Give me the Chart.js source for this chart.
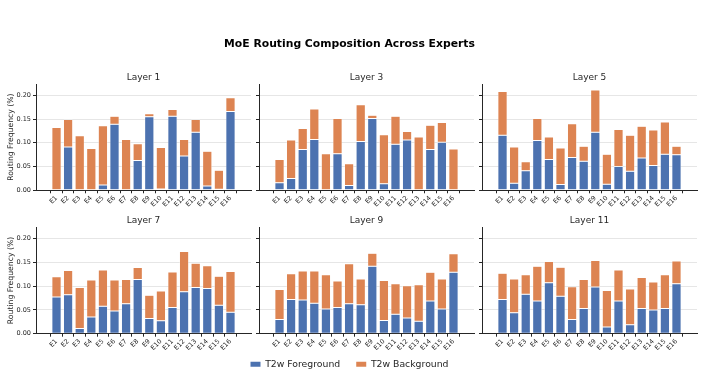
<!DOCTYPE html>
<html>
<head>
<meta charset="utf-8">
<script src="https://cdn.jsdelivr.net/npm/chart.js@4.4.1/dist/chart.umd.min.js"></script>
<style>
  html, body { margin: 0; padding: 0; background: #fff; }
  #wrap { position: relative; width: 705px; height: 376px; }
  #wrap canvas { position: absolute; left: 0; top: 0; }
</style>
</head>
<body>
<div id="wrap">
  <canvas id="c0" width="705" height="376"></canvas>
  <canvas id="c1" width="705" height="376"></canvas>
  <canvas id="c2" width="705" height="376"></canvas>
  <canvas id="c3" width="705" height="376"></canvas>
  <canvas id="c4" width="705" height="376"></canvas>
  <canvas id="c5" width="705" height="376"></canvas>
  <canvas id="top" width="705" height="376"></canvas>
</div>
<script>
/* =======================
   DATA
======================= */

const experts = ["E1", "E2", "E3", "E4", "E5", "E6", "E7", "E8", "E9", "E10", "E11", "E12", "E13", "E14", "E15", "E16"];
const layers = ["Layer 1", "Layer 3", "Layer 5", "Layer 7", "Layer 9", "Layer 11"];
const yTicks = [0, 0.05, 0.10, 0.15, 0.20];

// T2w foreground share per expert
const fgLayer1  = [0, 0.091, 0, 0, 0.011, 0.139, 0, 0.063, 0.155, 0.003, 0.156, 0.072, 0.122, 0.009, 0.002, 0.166];
const fgLayer3  = [0.016, 0.025, 0.086, 0.107, 0, 0.077, 0.010, 0.103, 0.151, 0.014, 0.097, 0.106, 0.001, 0.086, 0.101, 0];
const fgLayer5  = [0.116, 0.015, 0.041, 0.105, 0.065, 0.012, 0.069, 0.061, 0.122, 0.013, 0.050, 0.040, 0.068, 0.052, 0.076, 0.075];
const fgLayer7  = [0.077, 0.082, 0.011, 0.035, 0.058, 0.048, 0.063, 0.114, 0.032, 0.027, 0.055, 0.088, 0.097, 0.095, 0.060, 0.045];
const fgLayer9  = [0.030, 0.072, 0.071, 0.064, 0.052, 0.055, 0.063, 0.061, 0.142, 0.028, 0.041, 0.033, 0.026, 0.069, 0.052, 0.129];
const fgLayer11 = [0.072, 0.044, 0.083, 0.069, 0.107, 0.079, 0.030, 0.053, 0.098, 0.014, 0.069, 0.019, 0.053, 0.050, 0.053, 0.105];

// T2w background share per expert (stacked on top)
const bgLayer1  = [0.132, 0.058, 0.115, 0.088, 0.125, 0.017, 0.107, 0.035, 0.006, 0.087, 0.014, 0.035, 0.027, 0.073, 0.040, 0.029];
const bgLayer3  = [0.049, 0.081, 0.044, 0.064, 0.077, 0.074, 0.046, 0.077, 0.007, 0.103, 0.059, 0.018, 0.111, 0.051, 0.042, 0.087];
const bgLayer5  = [0.092, 0.076, 0.019, 0.046, 0.047, 0.077, 0.071, 0.032, 0.089, 0.063, 0.078, 0.076, 0.067, 0.075, 0.068, 0.018];
const bgLayer7  = [0.043, 0.051, 0.086, 0.078, 0.076, 0.065, 0.051, 0.025, 0.049, 0.063, 0.075, 0.085, 0.051, 0.048, 0.061, 0.086];
const bgLayer9  = [0.063, 0.054, 0.061, 0.068, 0.072, 0.056, 0.084, 0.054, 0.027, 0.084, 0.064, 0.068, 0.077, 0.060, 0.063, 0.039];
const bgLayer11 = [0.055, 0.071, 0.041, 0.073, 0.045, 0.061, 0.069, 0.061, 0.056, 0.077, 0.065, 0.075, 0.065, 0.059, 0.071, 0.048];

const fgData = [fgLayer1, fgLayer3, fgLayer5, fgLayer7, fgLayer9, fgLayer11];
const bgData = [bgLayer1, bgLayer3, bgLayer5, bgLayer7, bgLayer9, bgLayer11];

/* =======================
   LAYOUT / STYLE
======================= */

const W = 705, H = 376;
const COL_LEFT = [36, 259, 482];
const PLOT_W = 215;
const ROW_TOP = [84, 227.3];
const ROW_BOTTOM = [190.3, 333.7];
const TITLE_H = 9 * 1.2 + 1;
const XAXIS_H = 22;
const X_MIN = -1.19, X_MAX = 16.19;
const Y_MAX = 0.2238;

const BLUE = "#4c72b0";
const ORANGE = "#dd8452";
const AXIS = "#262626";
const GRID = "#e6e6e6";
const TEXT = "#262626";

Chart.defaults.font.family = '"DejaVu Sans", sans-serif';
Chart.defaults.animation = false;

const toPoints = arr => arr.map((v, i) => ({ x: i, y: v }));

/* =======================
   PANELS
======================= */

function makePanel(idx) {
  const col = idx % 3, row = Math.floor(idx / 3);
  const left = COL_LEFT[col];
  const yW = col === 0 ? 36 : 10;

  const barStyle = {
    borderColor: "#fff",
    borderWidth: 0.5,
    borderSkipped: false,
    barPercentage: 0.8,
    categoryPercentage: 1
  };

  new Chart(document.getElementById("c" + idx), {
    type: "bar",
    data: {
      datasets: [
        { label: "T2w Foreground", data: toPoints(fgData[idx]), backgroundColor: BLUE, ...barStyle },
        { label: "T2w Background", data: toPoints(bgData[idx]), backgroundColor: ORANGE, ...barStyle }
      ]
    },
    options: {
      responsive: false,
      layout: {
        padding: {
          left: left - yW,
          right: W - (left + PLOT_W),
          top: ROW_TOP[row] - TITLE_H,
          bottom: H - ROW_BOTTOM[row] - XAXIS_H
        }
      },
      plugins: {
        legend: { display: false },
        tooltip: { enabled: false },
        title: {
          display: true,
          text: layers[idx],
          fullSize: false,
          color: TEXT,
          font: { size: 9, weight: "normal" },
          padding: { top: 0, bottom: 1 }
        }
      },
      scales: {
        x: {
          type: "linear",
          stacked: true,
          bounds: "data",
          min: X_MIN,
          max: X_MAX,
          afterBuildTicks: s => { s.ticks = experts.map((e, i) => ({ value: i })); },
          afterFit: s => { s.height = XAXIS_H; },
          ticks: {
            autoSkip: false,
            minRotation: 45,
            maxRotation: 45,
            padding: 1,
            color: TEXT,
            font: { size: 6.5 },
            callback: v => experts[v]
          },
          grid: { display: true, drawOnChartArea: false, tickLength: 3, tickColor: AXIS },
          border: { color: AXIS, width: 1 }
        },
        y: {
          stacked: true,
          bounds: "data",
          min: 0,
          max: Y_MAX,
          afterBuildTicks: s => { s.ticks = yTicks.map(v => ({ value: v })); },
          afterFit: s => { s.width = yW; },
          ticks: {
            padding: 2,
            color: TEXT,
            font: { size: 6.5 },
            callback: v => col === 0 ? v.toFixed(2) : ""
          },
          grid: { color: GRID, lineWidth: 1, tickLength: 3, tickColor: AXIS },
          border: { color: AXIS, width: 1 },
          title: {
            display: col === 0,
            text: "Routing Frequency (%)",
            color: TEXT,
            font: { size: 7.7 },
            padding: { top: 6, bottom: 0 }
          }
        }
      }
    }
  });
}

for (let i = 0; i < 6; i++) makePanel(i);

/* =======================
   FIGURE TITLE + LEGEND
======================= */

new Chart(document.getElementById("top"), {
  type: "bar",
  data: {
    labels: [],
    datasets: [
      { label: "T2w Foreground", data: [], backgroundColor: BLUE, borderWidth: 0 },
      { label: "T2w Background", data: [], backgroundColor: ORANGE, borderWidth: 0 }
    ]
  },
  options: {
    responsive: false,
    layout: { padding: { top: 0, bottom: -3, right: 6 } },
    scales: { x: { display: false }, y: { display: false } },
    plugins: {
      tooltip: { enabled: false },
      title: {
        display: true,
        text: "MoE Routing Composition Across Experts",
        color: "#000",
        font: { size: 10.8, weight: "bold" },
        padding: { top: 37.5, bottom: 0 }
      },
      legend: {
        position: "bottom",
        labels: {
          boxWidth: 10,
          boxHeight: 5,
          padding: 16,
          color: TEXT,
          font: { size: 9.3 }
        }
      }
    }
  }
});
</script>
</body>
</html>
